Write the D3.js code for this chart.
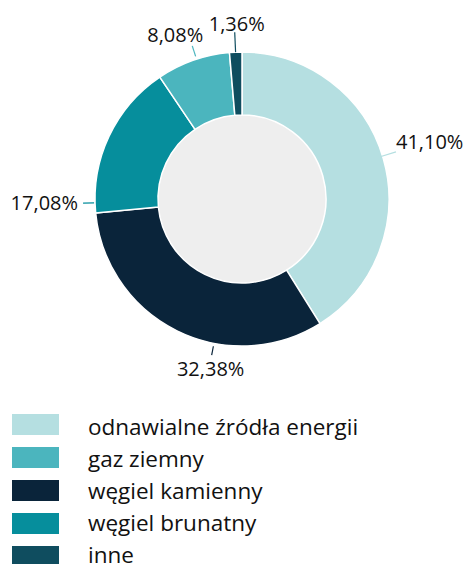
<!DOCTYPE html>
<html>
<head>
<meta charset="utf-8">
<script src="https://cdn.jsdelivr.net/npm/d3@7"></script>
<style>
  html, body { margin: 0; padding: 0; background: #ffffff; }
  svg { display: block; }
</style>
</head>
<body>
<div id="chart"></div>
<script>

// Categories in legend order.
const categories = [ 'odnawialne źródła energii', 'gaz ziemny', 'węgiel kamienny', 'węgiel brunatny', 'inne' ];
// Shares in percent, same order as categories.
const shares = [ 41.10, 8.08, 32.38, 17.08, 1.36 ];
// Order of the slices, clockwise from 12 o'clock.
const slice_order = [ 'odnawialne źródła energii', 'węgiel kamienny', 'węgiel brunatny', 'gaz ziemny', 'inne' ];
const colors = [ '#b5dfe1', '#4bb5be', '#0a243a', '#068e9c', '#0f4d5f' ];

// Label layout: angle of the leader line (deg), its radii, and text offset from its end.
const label_layout = {
  'odnawialne źródła energii': { angle: 73,    r0: 142, r1: 161, anchor: 'start',  dx: 0,   dy: -2.5 },
  'węgiel kamienny':           { angle: 191,   r0: 150, r1: 159, anchor: 'middle', dx: -1,  dy: 21 },
  'węgiel brunatny':           { angle: 268.5, r0: 148, r1: 159, anchor: 'end',    dx: -5,  dy: 7 },
  'gaz ziemny':                { angle: 342,   r0: 150, r1: 161, anchor: 'middle', dx: -17, dy: -3.5 },
  'inne':                      { angle: 357.5, r0: 147, r1: 167, anchor: 'middle', dx: 2,   dy: -1.5 }
};

const width = 463, height = 564;
const cx = 242, cy = 199;
const outer_r = 147, inner_r = 84;
const font = '"Open Sans", sans-serif';

const data = slice_order.map( function( name ){
  const i = categories.indexOf( name );
  return { name: name, value: shares[ i ], color: colors[ i ] };
} );

const svg = d3.select( '#chart' )
  .append( 'svg' )
    .attr( 'width', width )
    .attr( 'height', height );

const g = svg.append( 'g' )
  .attr( 'transform', 'translate(' + cx + ',' + cy + ')' );

const pie = d3.pie().sort( null ).value( d => d.value );
const arc = d3.arc().innerRadius( inner_r ).outerRadius( outer_r );

// Inner disc.
g.append( 'circle' )
  .attr( 'r', inner_r )
  .attr( 'fill', '#eeeeee' );

g.selectAll( 'path.slice' )
  .data( pie( data ) )
  .enter()
  .append( 'path' )
    .attr( 'class', 'slice' )
    .attr( 'd', arc )
    .attr( 'fill', d => d.data.color )
    .attr( 'stroke', '#ffffff' )
    .attr( 'stroke-width', 1.5 )
    .attr( 'stroke-linejoin', 'round' );

// Leader lines and percentage labels.
function polar( r, deg ){
  const a = deg * Math.PI / 180;
  return [ r * Math.sin( a ), -r * Math.cos( a ) ];
}

const fmt = v => v.toFixed( 2 ).replace( '.', ',' ) + '%';

data.forEach( function( d ){
  const l = label_layout[ d.name ];
  const p0 = polar( l.r0, l.angle );
  const p1 = polar( l.r1, l.angle );
  g.append( 'line' )
    .attr( 'x1', p0[0] ).attr( 'y1', p0[1] )
    .attr( 'x2', p1[0] ).attr( 'y2', p1[1] )
    .attr( 'stroke', d.color )
    .attr( 'stroke-width', 1.2 );
  g.append( 'text' )
    .attr( 'x', p1[0] + l.dx )
    .attr( 'y', p1[1] + l.dy )
    .attr( 'text-anchor', l.anchor )
    .attr( 'font-family', font )
    .attr( 'font-size', 20 )
    .attr( 'font-weight', 500 )
    .attr( 'fill', '#111111' )
    .text( fmt( d.value ) );
} );

// Legend: swatches on a 33px step, texts on a 32px step (as in the original).
const legend = svg.append( 'g' )
  .attr( 'transform', 'translate(12,414)' );

legend.selectAll( 'rect' )
  .data( categories )
  .enter()
  .append( 'rect' )
    .attr( 'y', (d, i) => i * 33 )
    .attr( 'width', 47 )
    .attr( 'height', 21 )
    .attr( 'fill', (d, i) => colors[ i ] );

legend.selectAll( 'text' )
  .data( categories )
  .enter()
  .append( 'text' )
    .attr( 'x', 76 )
    .attr( 'y', (d, i) => 20.5 + i * 32 )
    .attr( 'font-family', font )
    .attr( 'font-size', 22.5 )
    .attr( 'font-weight', 500 )
    .attr( 'fill', '#111111' )
    .text( d => d );

</script>
</body>
</html>
